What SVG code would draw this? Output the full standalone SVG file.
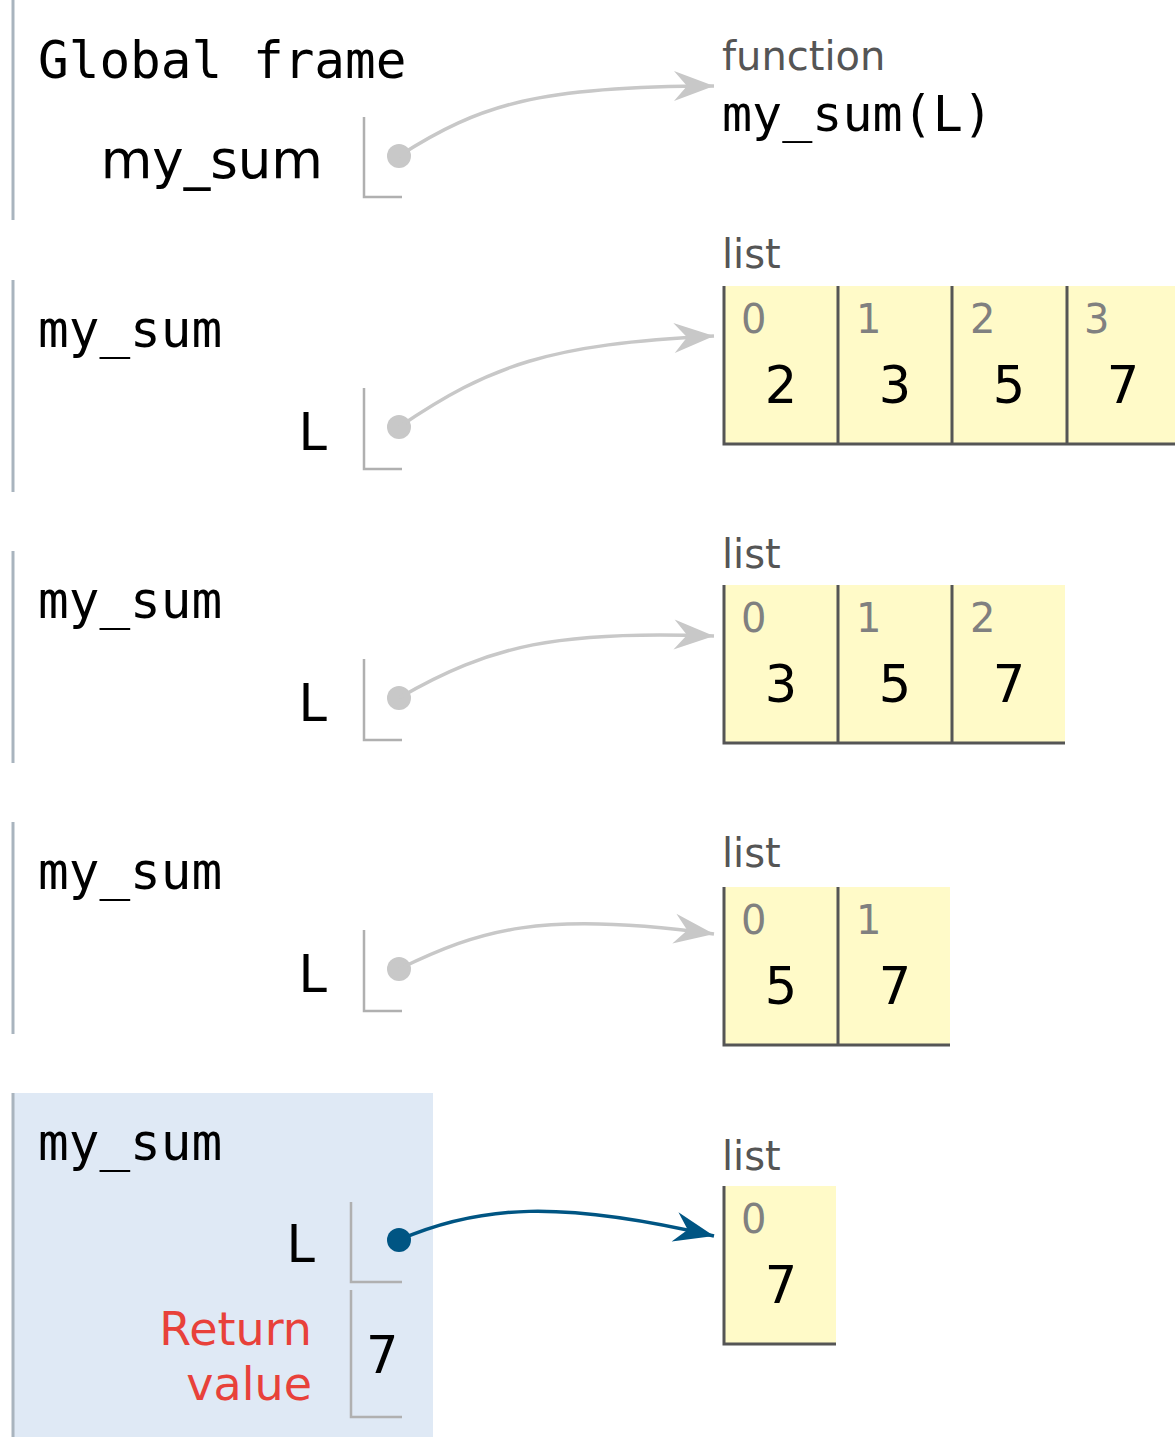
<svg xmlns="http://www.w3.org/2000/svg" width="1175" height="1437" viewBox="0 0 1175 1437">
  <style>
    .frame-edge { stroke: #a9b4be; stroke-width: 3; }
    .frame-title { font-family: "DejaVu Sans Mono", "Liberation Mono", monospace; font-size: 51px; fill: #000; }
    .var-name { font-family: "DejaVu Sans", Verdana, sans-serif; font-size: 51px; fill: #000; text-anchor: end; }
    .ret-label { font-family: "DejaVu Sans", Verdana, sans-serif; font-size: 46px; fill: #e8413a; text-anchor: end; }
    .slot { fill: none; stroke: #b0b0b0; stroke-width: 2.5; }
    .value { font-family: "DejaVu Sans", Verdana, sans-serif; font-size: 51px; fill: #000; }
    .type-label { font-family: "DejaVu Sans", Verdana, sans-serif; font-size: 40px; fill: #555; }
    .func-sig { font-family: "DejaVu Sans Mono", "Liberation Mono", monospace; font-size: 50px; fill: #000; }
    .cell { fill: #fffac8; }
    .cell-edge { stroke: #555; stroke-width: 3; fill: none; }
    .idx { font-family: "DejaVu Sans", Verdana, sans-serif; font-size: 40px; fill: #808080; }
    .elem { font-family: "DejaVu Sans", Verdana, sans-serif; font-size: 51px; fill: #000; text-anchor: middle; }
    .ptr-gray { fill: none; stroke: #c8c8c8; stroke-width: 3.5; marker-end: url(#head-gray); }
    .ptr-blue { fill: none; stroke: #005583; stroke-width: 3.5; marker-end: url(#head-blue); }
  </style>
  <defs>
    <marker id="head-gray" markerUnits="userSpaceOnUse" orient="auto" markerWidth="46" markerHeight="36" refX="0" refY="0" viewBox="-44 -18 46 36" overflow="visible">
      <path d="M0,0 L-40,-15 L-27,0 L-40,15 Z" fill="#c8c8c8"/>
    </marker>
    <marker id="head-blue" markerUnits="userSpaceOnUse" orient="auto" markerWidth="46" markerHeight="36" refX="0" refY="0" viewBox="-44 -18 46 36" overflow="visible">
      <path d="M0,0 L-40,-15 L-27,0 L-40,15 Z" fill="#005583"/>
    </marker>
  </defs>

  <!-- Global frame -->
  <g id="global-frame">
    <line class="frame-edge" x1="13" y1="0" x2="13" y2="220"/>
    <text class="frame-title" x="38" y="78">Global frame</text>
    <text class="var-name" x="323" y="178" style="font-size:53px">my_sum</text>
    <path class="slot" d="M364,117 V197 H402"/>
    <circle cx="399" cy="156" r="12" fill="#c8c8c8"/>
  </g>

  <!-- Call frames -->
  <g id="frame-1">
    <line class="frame-edge" x1="13" y1="280" x2="13" y2="492"/>
    <text class="frame-title" x="38" y="347">my_sum</text>
    <text class="var-name" x="327" y="450">L</text>
    <path class="slot" d="M364,388 V469 H402"/>
    <circle cx="399" cy="427" r="12" fill="#c8c8c8"/>
  </g>

  <g id="frame-2">
    <line class="frame-edge" x1="13" y1="551" x2="13" y2="763"/>
    <text class="frame-title" x="38" y="618">my_sum</text>
    <text class="var-name" x="327" y="721">L</text>
    <path class="slot" d="M364,659 V740 H402"/>
    <circle cx="399" cy="698" r="12" fill="#c8c8c8"/>
  </g>

  <g id="frame-3">
    <line class="frame-edge" x1="13" y1="822" x2="13" y2="1034"/>
    <text class="frame-title" x="38" y="889">my_sum</text>
    <text class="var-name" x="327" y="992">L</text>
    <path class="slot" d="M364,930 V1011 H402"/>
    <circle cx="399" cy="969" r="12" fill="#c8c8c8"/>
  </g>

  <g id="frame-4">
    <rect x="12" y="1093" width="421" height="344" fill="#dfe9f5"/>
    <line class="frame-edge" x1="13" y1="1093" x2="13" y2="1437"/>
    <text class="frame-title" x="38" y="1160">my_sum</text>
    <text class="var-name" x="315" y="1262">L</text>
    <path class="slot" d="M351,1202 V1282 H402"/>
    <circle cx="399" cy="1240" r="12" fill="#005583"/>
    <text class="ret-label" x="312" y="1345">Return</text>
    <text class="ret-label" x="312" y="1400">value</text>
    <path class="slot" d="M351,1290 V1417 H402"/>
    <text class="value" x="366" y="1373">7</text>
  </g>

  <!-- Heap objects -->
  <g id="func-my_sum">
    <text class="type-label" x="722" y="70">function</text>
    <text class="func-sig" x="722" y="131">my_sum(L)</text>
  </g>

  <g id="list-4">
    <text class="type-label" x="722" y="268">list</text>
    <rect class="cell" x="723" y="286" width="452" height="158"/>
    <path class="cell-edge" d="M724,286 V444 H1175 M838,286 V444 M952,286 V444 M1067,286 V444"/>
    <text class="idx" x="741" y="333">0</text>
    <text class="idx" x="856" y="333">1</text>
    <text class="idx" x="970" y="333">2</text>
    <text class="idx" x="1084" y="333">3</text>
    <text class="elem" x="781" y="403">2</text>
    <text class="elem" x="895" y="403">3</text>
    <text class="elem" x="1009" y="403">5</text>
    <text class="elem" x="1123" y="403">7</text>
  </g>

  <g id="list-3">
    <text class="type-label" x="722" y="568">list</text>
    <rect class="cell" x="723" y="585" width="342" height="158"/>
    <path class="cell-edge" d="M724,585 V743 H1065 M838,585 V743 M952,585 V743"/>
    <text class="idx" x="741" y="632">0</text>
    <text class="idx" x="856" y="632">1</text>
    <text class="idx" x="970" y="632">2</text>
    <text class="elem" x="781" y="702">3</text>
    <text class="elem" x="895" y="702">5</text>
    <text class="elem" x="1009" y="702">7</text>
  </g>

  <g id="list-2">
    <text class="type-label" x="722" y="867">list</text>
    <rect class="cell" x="723" y="887" width="227" height="158"/>
    <path class="cell-edge" d="M724,887 V1045 H950 M838,887 V1045"/>
    <text class="idx" x="741" y="934">0</text>
    <text class="idx" x="856" y="934">1</text>
    <text class="elem" x="781" y="1004">5</text>
    <text class="elem" x="895" y="1004">7</text>
  </g>

  <g id="list-1">
    <text class="type-label" x="722" y="1170">list</text>
    <rect class="cell" x="723" y="1186" width="113" height="158"/>
    <path class="cell-edge" d="M724,1186 V1344 H836"/>
    <text class="idx" x="741" y="1233">0</text>
    <text class="elem" x="781" y="1303">7</text>
  </g>

  <!-- References from variables to heap objects -->
  <g id="connectors">
    <path class="ptr-gray" d="M399,156 C480,104 540,86 714,86"/>
    <path class="ptr-gray" d="M399,427 C490,365 550,344 714,336"/>
    <path class="ptr-gray" d="M399,698 C490,645 560,630 714,636"/>
    <path class="ptr-gray" d="M399,969 C480,930 540,910 714,934"/>
    <path class="ptr-blue" d="M399,1240 C480,1205 560,1200 714,1236"/>
  </g>
</svg>
